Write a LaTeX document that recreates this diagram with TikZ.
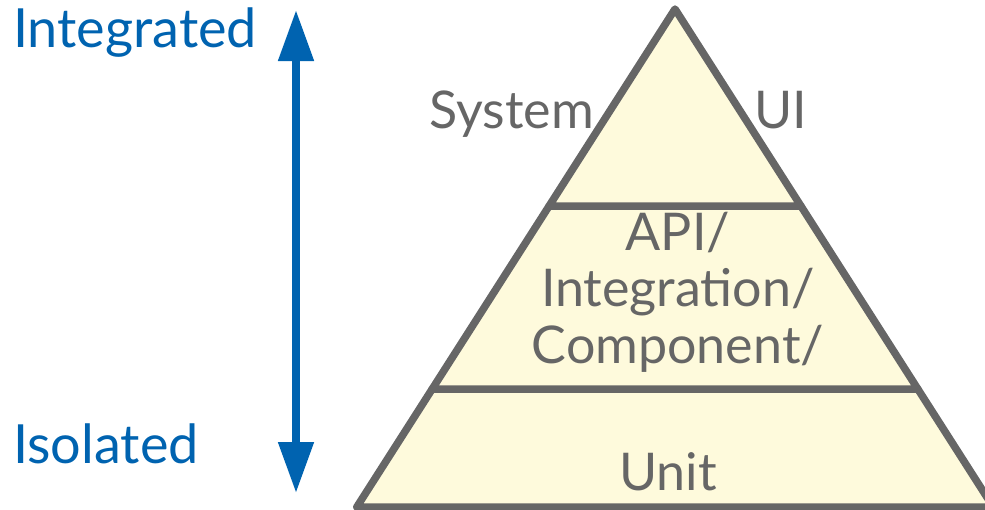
\documentclass[tikz,border=0pt]{standalone}
\usepackage{fontspec}
\setmainfont{Lato}
\usetikzlibrary{arrows.meta}
\definecolor{levelgrey}{HTML}{666666}
\definecolor{levelfill}{HTML}{FEFADC}
\definecolor{axisblue}{HTML}{0063B0}
\tikzset{
  level/.style={draw=levelgrey, fill=levelfill, line width=7.5pt, line join=round},
  axislabel/.style={text=axisblue, font=\fontsize{54}{58}\selectfont, inner sep=0pt, anchor=base west},
  levellabel/.style={text=levelgrey, font=\fontsize{52}{56.5}\selectfont, inner sep=0pt},
  axis/.style={draw=axisblue, line width=8pt, {Triangle[length=51pt,width=34pt]}-{Triangle[length=51pt,width=34pt]}}
}
\begin{document}
\begin{tikzpicture}[x=1pt, y=-1pt]
  \useasboundingbox (0,0) rectangle (985,509);

  % pyramid levels, bottom to top
  \path[level] (432.2,389) -- (917.8,389) -- (993.2,507) -- (356.8,507) -- cycle;
  \path[level] (549.1,206) -- (800.9,206) -- (917.8,389) -- (432.2,389) -- cycle;
  \path[level] (675,9) -- (800.9,206) -- (549.1,206) -- cycle;

  % level labels
  \node[levellabel, anchor=base east] (system) at (594,128) {System};
  \node[levellabel, anchor=base west] (ui) at (754,128) {UI};
  % base anchor of a multi-line node sits on its last line
  \node[levellabel, anchor=base, align=center] (middle) at (678,363) {API/\\Integration/\\Component/};
  \node[levellabel, anchor=base] (unit) at (668,490) {Unit};

  % integration axis
  \node[axislabel] (integrated) at (13,47) {Integrated};
  \node[axislabel] (isolated) at (13,463) {Isolated};
  \coordinate (axistop) at (296,10);
  \coordinate (axisbottom) at (296,493);
  \draw[axis] (axisbottom) -- (axistop);
\end{tikzpicture}
\end{document}
